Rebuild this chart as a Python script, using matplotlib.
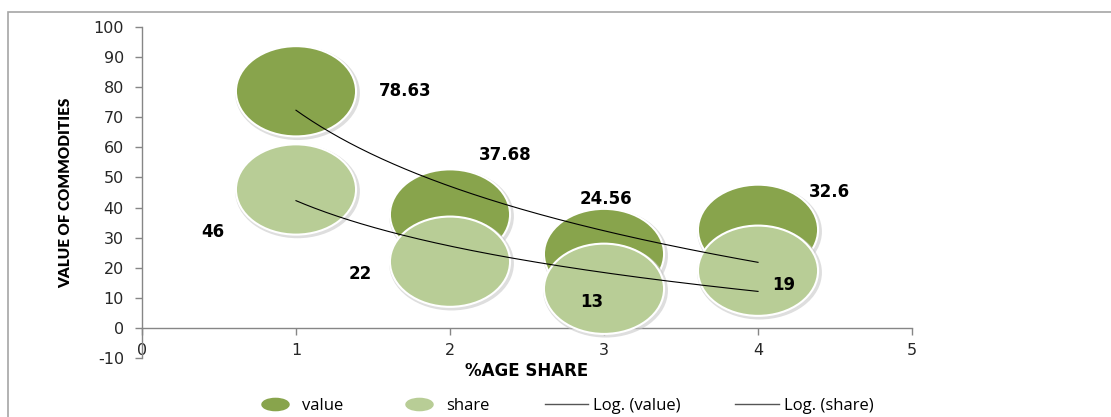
import numpy as np
import matplotlib
matplotlib.use('Agg')
import matplotlib.pyplot as plt
from matplotlib.patches import Ellipse, Rectangle
from matplotlib.path import Path
from matplotlib.lines import Line2D

# ---------------------------------------- DATA ----------------------------------------
x_share = [1, 2, 3, 4]
value = [78.63, 37.68, 24.56, 32.6]
share = [46, 22, 13, 19]
value_labels = ['78.63', '37.68', '24.56', '32.6']
share_labels = ['46', '22', '13', '19']

# label offsets from bubble centre, in pixels
value_offsets = [(109, 0), (55, 60), (2, 55), (71, 38)]
share_offsets = [(-83, -43), (-90, -12), (-12, -13), (26, -14)]

dark_green = '#88A44C'
light_green = '#B8CD96'
axis_grey = '#868686'

plt.rcParams['axes.unicode_minus'] = False

fig = plt.figure(figsize=(11.11, 4.17), dpi=100)
ax = fig.add_axes([0.1278, 0.1415, 0.6931, 0.7938])

# bubbles all the same size -> ellipses in data units (x: 0.78, y: 30)
bw, bh = 0.78, 30.0


def draw_bubbles(xs, ys, colour, z):
    for xi, yi in zip(xs, ys):
        shadow = Ellipse((xi + 0.01, yi - 0.6), bw + 0.03, bh + 1.2, fc='#c8c8c8',
                         ec='none', alpha=0.6, zorder=z - 0.1)
        ax.add_patch(shadow)
        ax.add_patch(Ellipse((xi, yi), bw, bh, fc=colour, ec='white', lw=1.5, zorder=z))


draw_bubbles(x_share, value, dark_green, 2)
draw_bubbles(x_share, share, light_green, 3)

# logarithmic trendlines
xt = np.linspace(1, 4, 200)
for ys in (value, share):
    a, b = np.polyfit(np.log(x_share), ys, 1)
    ax.plot(xt, a * np.log(xt) + b, color='black', lw=0.8, zorder=5)

for xi, yi, txt, off in zip(x_share, value, value_labels, value_offsets):
    ax.annotate(txt, (xi, yi), xytext=off, textcoords='offset pixels', ha='center',
                va='center', fontsize=12, fontweight='bold', zorder=6)
for xi, yi, txt, off in zip(x_share, share, share_labels, share_offsets):
    ax.annotate(txt, (xi, yi), xytext=off, textcoords='offset pixels', ha='center',
                va='center', fontsize=12, fontweight='bold', zorder=6)

ax.set_xlim(0, 5)
ax.set_ylim(-10, 100)
ax.set_xticks(range(0, 6))
ax.set_yticks(range(-10, 101, 10))
ax.spines['top'].set_visible(False)
ax.spines['right'].set_visible(False)
ax.spines['bottom'].set_position(('data', 0))
for s in ('left', 'bottom'):
    ax.spines[s].set_color(axis_grey)
    ax.spines[s].set_linewidth(1)
ax.tick_params(axis='both', colors=axis_grey, labelcolor='#262626', labelsize=11.5,
               length=5, width=1)
ax.tick_params(axis='y', pad=8)
ax.tick_params(axis='x', pad=6)
ax.set_facecolor('none')

ax.set_ylabel('VALUE OF COMMODITIES', family=['Lato', 'DejaVu Sans'],
              fontweight='heavy', fontsize=11, labelpad=15)
ax.set_xlabel('%AGE SHARE', fontweight='bold', fontsize=12, labelpad=3)

# ellipse legend marker
circ = Path.unit_circle()
ell = Path(circ.vertices * np.array([1.0, 0.45]), circ.codes)
handles = [
    Line2D([], [], ls='none', marker=ell, markersize=19.5, mfc=dark_green, mec=dark_green),
    Line2D([], [], ls='none', marker=ell, markersize=19.5, mfc=light_green, mec=light_green),
    Line2D([], [], color='#555555', lw=1),
    Line2D([], [], color='#555555', lw=1),
]
fig.legend(handles, ['value', 'share', 'Log. (value)', 'Log. (share)'],
           loc='center', bbox_to_anchor=(0.507, 0.026), ncol=4, frameon=False,
           prop={'family': ['Open Sans', 'DejaVu Sans'], 'size': 12},
           handlelength=2.6, columnspacing=3.3, handletextpad=0.3)

# chart area border
fig.add_artist(Rectangle((8 / 1111, -0.2), 1.2, 1 - 12 / 417 + 0.2,
                         transform=fig.transFigure, fill=False, ec='#A6A6A6', lw=1.2))

fig.savefig('out.png', dpi=100)
